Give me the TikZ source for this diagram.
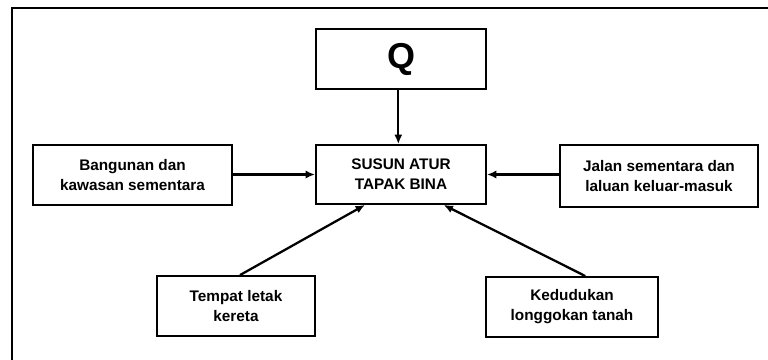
\documentclass[tikz,border=0pt]{standalone}
\usepackage{fontspec}
\setmainfont{Liberation Sans}
\usetikzlibrary{positioning}
\usetikzlibrary{arrows.meta}

\tikzset{
  kotak/.style={draw, line width=1.4pt, inner sep=0pt, align=center,
    font=\bfseries\fontsize{11.5}{15}\selectfont},
  panah/.style={-{Latex[length=7pt,width=6pt]}, line width=1.7pt}
}

\begin{document}
\begin{tikzpicture}[x=0.75pt, y=-0.75pt]
	\useasboundingbox (0,0) rectangle (768,360);

	% Frame
	\draw[line width=1.6pt] (12,360) -- (12,8) -- (768,8);

	% Boxes
	\node[kotak, minimum width=127.5pt, minimum height=45pt,
	      font=\bfseries\fontsize{27}{28}\selectfont] (Q) at (401,59) {Q};
	\node[kotak, minimum width=127.5pt, minimum height=44.25pt] (susun) at (401,174.5) {SUSUN ATUR\\TAPAK BINA};
	\node[kotak, minimum width=149.25pt, minimum height=45pt] (bangunan) at (132.5,175) {Bangunan dan\\kawasan sementara};
	\node[kotak, minimum width=148.5pt, minimum height=46.5pt] (jalan) at (659,176) {Jalan sementara dan\\laluan keluar-masuk};
	\node[kotak, minimum width=118.5pt, minimum height=45pt] (tempat) at (236,306) {Tempat letak\\kereta};
	\node[kotak, minimum width=129pt, minimum height=45pt] (kedudukan) at (572,307) {Kedudukan\\longgokan tanah};

	% Arrows
	\draw[panah] ([xshift=-2pt]Q.south) -- ([xshift=-2pt]susun.north);
	\draw[panah] (bangunan.east |- susun.west) -- (susun.west);
	\draw[panah] (jalan.west |- susun.east) -- (susun.east);
	\draw[panah] ([xshift=3pt]tempat.north) -- ([xshift=-27pt]susun.south);
	\draw[panah] ([xshift=10pt]kedudukan.north) -- ([xshift=32pt]susun.south);
\end{tikzpicture}
\end{document}
